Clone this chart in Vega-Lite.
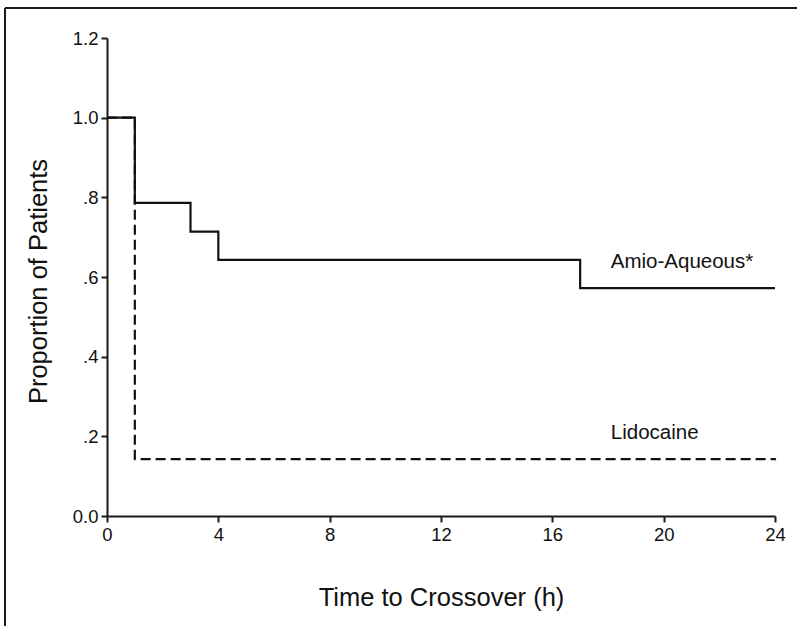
{
  "$schema": "https://vega.github.io/schema/vega-lite/v6.json",
  "width": 668,
  "height": 478,
  "autosize": {"type": "none"},
  "padding": {"left": 107, "top": 38, "right": 22, "bottom": 110},
  "background": "white",
  "config": {
    "view": {"stroke": null, "fill": null},
    "font": "Liberation Sans",
    "axis": {
      "domain": true,
      "domainColor": "#1a1a1a",
      "domainWidth": 2,
      "grid": false,
      "ticks": true,
      "tickSize": 6,
      "tickWidth": 2,
      "tickColor": "#1a1a1a",
      "labelFont": "Liberation Sans",
      "labelFontSize": 18.5,
      "labelColor": "#111111",
      "labelPadding": 3,
      "labelFlush": false,
      "labelOverlap": false,
      "labelBound": false,
      "titleFont": "Liberation Sans",
      "titleFontSize": 25.5,
      "titleFontWeight": "normal",
      "titleColor": "#111111"
    }
  },
  "datasets": {
    "curves": [
      {"group": "Lidocaine", "time": 0, "proportion": 1.0},
      {"group": "Lidocaine", "time": 1, "proportion": 0.143},
      {"group": "Lidocaine", "time": 24, "proportion": 0.145},
      {"group": "Amio-Aqueous", "time": 0, "proportion": 1.0},
      {"group": "Amio-Aqueous", "time": 1, "proportion": 0.786},
      {"group": "Amio-Aqueous", "time": 3, "proportion": 0.714},
      {"group": "Amio-Aqueous", "time": 4, "proportion": 0.643},
      {"group": "Amio-Aqueous", "time": 17, "proportion": 0.572},
      {"group": "Amio-Aqueous", "time": 24, "proportion": 0.572}
    ],
    "labels": [
      {"label": "Amio-Aqueous*", "time": 18.1, "proportion": 0.638},
      {"label": "Lidocaine", "time": 18.1, "proportion": 0.2085}
    ]
  },
  "layer": [
    {
      "data": {"name": "curves"},
      "transform": [{"filter": "datum.group === 'Lidocaine'"}],
      "mark": {"type": "line", "interpolate": "step-after", "color": "#111111", "strokeWidth": 2.2, "strokeDash": [10, 5]},
      "encoding": {
        "x": {
          "field": "time", "type": "quantitative",
          "scale": {"domain": [0, 24], "nice": false, "zero": false},
          "axis": {
            "values": [0, 4, 8, 12, 16, 20, 24],
            "title": "Time to Crossover (h)",
            "titleY": 81,
            "titleBaseline": "middle"
          }
        },
        "y": {
          "field": "proportion", "type": "quantitative",
          "scale": {"domain": [0, 1.2], "nice": false, "zero": false},
          "axis": {
            "values": [0, 0.2, 0.4, 0.6, 0.8, 1.0, 1.2],
            "labelExpr": "datum.value === 0 ? '0.0' : (datum.value >= 1 ? format(datum.value, '.1f') : replace(format(datum.value, '.1f'), '0.', '.'))",
            "title": "Proportion of Patients",
            "titleX": -69,
            "titleY": 243,
            "titleAngle": -90,
            "titleBaseline": "middle",
            "titleAlign": "center"
          }
        }
      }
    },
    {
      "data": {"name": "curves"},
      "transform": [{"filter": "datum.group === 'Amio-Aqueous'"}],
      "mark": {"type": "line", "interpolate": "step-after", "color": "#111111", "strokeWidth": 2.2},
      "encoding": {
        "x": {"field": "time", "type": "quantitative"},
        "y": {"field": "proportion", "type": "quantitative"}
      }
    },
    {
      "data": {"values": [{}]},
      "mark": {"type": "rule", "color": "#1a1a1a", "strokeWidth": 2, "clip": false},
      "encoding": {
        "x": {"datum": -3.665, "type": "quantitative"},
        "x2": {"datum": 24.79},
        "y": {"datum": 1.2754, "type": "quantitative"}
      }
    },
    {
      "data": {"values": [{}]},
      "mark": {"type": "rule", "color": "#1a1a1a", "strokeWidth": 2, "clip": false},
      "encoding": {
        "x": {"datum": -3.665, "type": "quantitative"},
        "y": {"datum": 1.2754, "type": "quantitative"},
        "y2": {"datum": -0.2764}
      }
    },
    {
      "data": {"name": "labels"},
      "mark": {"type": "text", "align": "left", "baseline": "middle", "font": "Liberation Sans", "fontSize": 20.5, "color": "#111111"},
      "encoding": {
        "x": {"field": "time", "type": "quantitative"},
        "y": {"field": "proportion", "type": "quantitative"},
        "text": {"field": "label"}
      }
    }
  ]
}
